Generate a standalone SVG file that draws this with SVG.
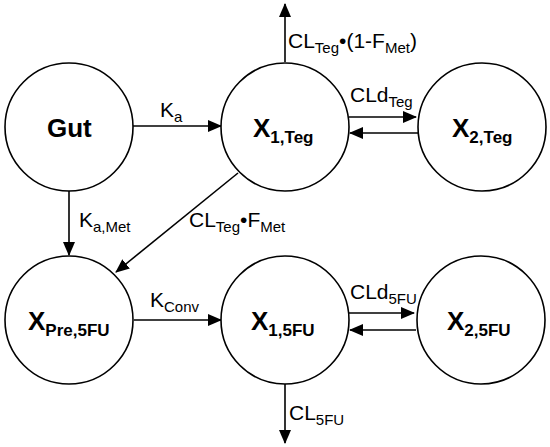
<svg xmlns="http://www.w3.org/2000/svg" width="550" height="447" viewBox="0 0 550 447">
<style>
.node{fill:#fff;stroke:#000;stroke-width:1.6}
.nl{font-family:"Liberation Sans",Arial,sans-serif;font-weight:bold;font-size:26px;fill:#000}
.ns{font-size:17px}
.edge{stroke:#000;stroke-width:1.6;fill:none;marker-end:url(#ah)}
.el{font-family:"Liberation Sans",Arial,sans-serif;font-size:21px;fill:#000}
.es{font-size:15px}
</style>
<defs>
<marker id="ah" markerUnits="userSpaceOnUse" markerWidth="14" markerHeight="12" refX="13" refY="6" orient="auto">
<path d="M0,0 L14,6 L0,12 Z" fill="#000"/>
</marker>
</defs>
<g id="connectors">
<line class="edge" x1="133" y1="126" x2="221" y2="126"/>
<line class="edge" x1="285" y1="62" x2="285" y2="4"/>
<line class="edge" x1="349" y1="117" x2="416" y2="117"/>
<line class="edge" x1="418" y1="133" x2="350" y2="133"/>
<line class="edge" x1="69" y1="191" x2="69" y2="255"/>
<line class="edge" x1="238" y1="173" x2="116" y2="272"/>
<line class="edge" x1="134" y1="320" x2="221" y2="320"/>
<line class="edge" x1="349" y1="313" x2="414" y2="313"/>
<line class="edge" x1="416" y1="330" x2="350" y2="330"/>
<line class="edge" x1="285" y1="384" x2="285" y2="443"/>
<text class="el" x="160" y="117">K<tspan class="es" dy="5">a</tspan></text>
<text class="el" x="288" y="48">CL<tspan class="es" dy="5">Teg</tspan><tspan dy="-5">•(1-F</tspan><tspan class="es" dy="5">Met</tspan><tspan dy="-5">)</tspan></text>
<text class="el" x="350" y="102">CLd<tspan class="es" dy="5">Teg</tspan></text>
<text class="el" x="79" y="227">K<tspan class="es" dy="5">a,Met</tspan></text>
<text class="el" x="189" y="227">CL<tspan class="es" dy="5">Teg</tspan><tspan dy="-5">•F</tspan><tspan class="es" dy="5">Met</tspan></text>
<text class="el" x="150" y="307">K<tspan class="es" dy="5">Conv</tspan></text>
<text class="el" x="350" y="299">CLd<tspan class="es" dy="5">5FU</tspan></text>
<text class="el" x="289" y="420">CL<tspan class="es" dy="5">5FU</tspan></text>
</g>
<g id="gut"><circle class="node" cx="69" cy="127" r="64"/><text class="nl" x="47" y="137">Gut</text></g>
<g id="x1teg"><circle class="node" cx="285" cy="127" r="64"/><text class="nl" x="253" y="137">X<tspan class="ns" dy="6">1,Teg</tspan></text></g>
<g id="x2teg"><circle class="node" cx="482" cy="127" r="64"/><text class="nl" x="452" y="137">X<tspan class="ns" dy="6">2,Teg</tspan></text></g>
<g id="xpre5fu"><circle class="node" cx="69" cy="320" r="64"/><text class="nl" x="28" y="330">X<tspan class="ns" dy="6">Pre,5FU</tspan></text></g>
<g id="x15fu"><circle class="node" cx="285" cy="320" r="64"/><text class="nl" x="251" y="330">X<tspan class="ns" dy="6">1,5FU</tspan></text></g>
<g id="x25fu"><circle class="node" cx="481" cy="320" r="64"/><text class="nl" x="447" y="330">X<tspan class="ns" dy="6">2,5FU</tspan></text></g>
</svg>
